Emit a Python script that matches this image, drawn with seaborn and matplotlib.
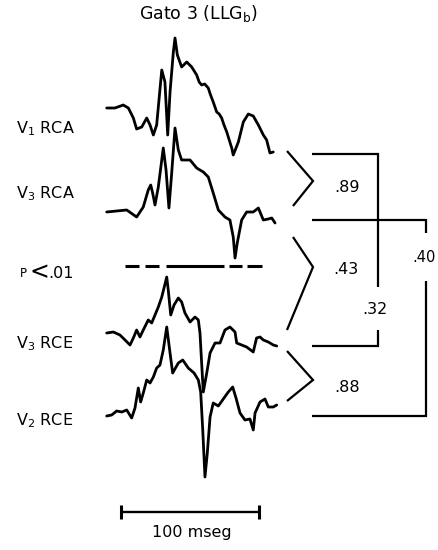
import numpy as np
import pandas as pd
import matplotlib
matplotlib.use("Agg")
import matplotlib.pyplot as plt
import seaborn as sns

sns.set_theme(style="white")
plt.rcParams["font.family"] = ["DejaVu Sans"]
plt.rcParams["mathtext.fontset"] = "dejavusans"
plt.rcParams["text.color"] = "black"

# Averaged evoked responses (time in ms, amplitude in arbitrary units)
v1_rca_t = [0, 6.0, 12.0, 15.7, 19.3, 21.7, 25.4, 29.0, 31.4, 33.8, 36.2, 39.9, 42.2, 44.2,
            45.9, 48.3, 49.5, 51.2, 54.3, 58.0, 61.6, 65.2, 67.0, 68.8, 71.0, 73.6, 75.0,
            77.2, 79.7, 81.5, 83.3, 85.0, 87.0, 90.6, 91.7, 95.4, 99.0, 102.6, 106.2,
            109.9, 113.5, 115.9, 118.3, 120.7]
v1_rca_a = [0, 0, 3, 0, -10, -21, -19, -10, -17, -27, -17, 38, 26, -27,
            16, 56, 70, 53, 41, 46, 41, 33, 26, 23, 24, 20, 14,
            6, -4, -6, -10, -17, -24, -40, -47, -34, -14, -6, -8,
            -17, -27, -32, -45, -44]

v3_rca_t = [0, 7.2, 14.5, 21.7, 26.5, 30.1, 31.9, 33.3, 35.0, 37.4, 41.0, 43.0, 45.1, 47.1,
            49.5, 51.9, 54.3, 60.4, 65.2, 70.0, 73.6, 77.2, 80.9, 85.7, 89.3, 91.7, 93.0,
            94.6, 97.8, 101.4, 106.2, 109.9, 113.5, 117.1, 119.6, 122.0]
v3_rca_a = [-1, 0, 1, -6, 4, 21, 26, 18, 6, 24, 63, 41, 3, 38,
            83, 61, 51, 51, 43, 39, 34, 18, 1, -6, -9, -26, -47,
            -32, -9, -1, -1, 3, -9, -8, -7, -12]

v3_rce_t = [0, 4.8, 9.6, 13.3, 16.9, 19.3, 21.7, 24.1, 26.5, 30.1, 32.6, 35.0, 37.4, 39.9,
            43.5, 44.6, 46.4, 48.8, 51.9, 54.3, 56.7, 60.4, 64.0, 66.4, 67.6, 68.8, 70.0,
            72.5, 74.9, 78.5, 82.1, 85.7, 89.3, 93.0, 94.2, 97.8, 101.4, 106.2, 108.6,
            111.1, 113.5, 117.1, 120.7, 123.2]
v3_rce_a = [0, 1, -2, -7, -12, -5, 3, -4, 3, 13, 10, 18, 26, 36,
            56, 43, 18, 28, 35, 31, 20, 11, 16, 13, 0, -30, -59,
            -40, -20, -10, -10, 3, 6, 1, -10, -12, -14, -19, -5,
            -4, -7, -9, -12, -13]

v2_rce_t = [0, 3.6, 7.2, 10.9, 14.5, 18.1, 20.5, 22.9, 24.6, 26.5, 29.0, 31.4, 33.8, 36.2,
            38.6, 41.0, 43.5, 45.9, 47.8, 51.9, 55.1, 59.1, 63.3, 66.4, 68.1, 69.6, 71.2,
            72.9, 74.9, 77.2, 80.9, 85.0, 88.1, 91.3, 93.7, 96.6, 100.2, 103.8, 106.2,
            107.5, 111.1, 114.7, 117.1, 120.7, 123.2]
v2_rce_a = [-2, -1, 3, 2, 4, -4, 6, 26, 12, 21, 34, 31, 37, 46,
            49, 64, 87, 61, 41, 51, 54, 46, 41, 34, 22, -16, -63,
            -39, -3, 11, 8, 16, 22, 27, 16, 1, -6, -5, -16,
            1, 12, 15, 7, 7, 9]

trace_labels = ["V$_\\mathregular{1}$ RCA", "V$_\\mathregular{3}$ RCA",
                "V$_\\mathregular{3}$ RCE", "V$_\\mathregular{2}$ RCE"]
correlations = [".89", ".43", ".88", ".32", ".40"]
significance_label = ["P", "<", ".01"]
title_text = "Gato 3 (LLG$_\\mathregular{b}$)"
scale_text = "100 mseg"
scale_ms = 100

traces = [(v1_rca_t, v1_rca_a), (v3_rca_t, v3_rca_a),
          (v3_rce_t, v3_rce_a), (v2_rce_t, v2_rce_a)]
baselines = [108, 211, 333, 414]  # vertical stacking of the traces (px from top)
label_baselines = [133, 198, 348, 425]

W, H = 438, 550
fig = plt.figure(figsize=(W / 100, H / 100), dpi=100)
fig.patch.set_facecolor("white")

# Traces drawn on a time axis: 1 ms = 1.38 px, t = 0 at x = 106.7 px
px_per_ms = 1.38
x0 = 106.7
ax = fig.add_axes([0, 0, 1, 1])
ax.set_xlim(-x0 / px_per_ms, (W - x0) / px_per_ms)
ax.set_ylim(-H, 0)
ax.axis("off")

for (t, a), base in zip(traces, baselines):
    df = pd.DataFrame({"t": t, "y": np.array(a) - base})
    sns.lineplot(data=df, x="t", y="y", ax=ax, color="black", linewidth=2.0,
                 sort=False, estimator=None)

# scale bar
sb_y = -512
ax.plot([10, 10 + scale_ms], [sb_y, sb_y], color="black", lw=1.7, solid_capstyle="butt")
for xe in (10, 10 + scale_ms):
    ax.plot([xe, xe], [sb_y - 7, sb_y + 7], color="black", lw=2.2, solid_capstyle="butt")

# significance threshold (broken line)
thr_y = -266
for a_ms, b_ms in [(13.3, 23.4), (27.8, 37.9), (43.0, 85.0), (88.6, 98.0), (101.6, 112.5)]:
    ax.plot([a_ms, b_ms], [thr_y, thr_y], color="black", lw=2.2, solid_capstyle="butt")

# annotation layer in pixel coordinates
ov = fig.add_axes([0, 0, 1, 1])
ov.set_xlim(0, W)
ov.set_ylim(H, 0)
ov.axis("off")
ov.patch.set_alpha(0)

lk = dict(color="black", lw=1.6, solid_capstyle="butt", solid_joinstyle="miter")
# pair chevrons
ov.plot([287, 313, 293], [151, 181, 206], **lk)
ov.plot([293, 313, 287], [237, 267, 330], **lk)
ov.plot([287, 313, 287], [351, 380, 401], **lk)
# bracket .32
ov.plot([312, 378, 378], [154, 154, 287], **lk)
ov.plot([378, 378, 312], [330, 346, 346], **lk)
# bracket .40
ov.plot([312, 426, 426], [220, 220, 233], **lk)
ov.plot([426, 426, 312], [281, 416, 416], **lk)

fs = 11.5
tk = dict(color="black")
ov.text(347, 187, correlations[0], fontsize=fs, ha="center", va="center", **tk)
ov.text(346, 270, correlations[1], fontsize=fs, ha="center", va="center", **tk)
ov.text(347, 387, correlations[2], fontsize=fs, ha="center", va="center", **tk)
ov.text(375, 310, correlations[3], fontsize=fs, ha="center", va="center", **tk)
ov.text(436, 257, correlations[4], fontsize=10.5, ha="right", va="center", **tk)

for lab, yb in zip(trace_labels, label_baselines):
    ov.text(16, yb, lab, fontsize=fs, ha="left", va="baseline", **tk)
ov.text(20, 277, significance_label[0], fontsize=8.5, ha="left", va="baseline", **tk)
ov.text(30, 279, significance_label[1], fontsize=17, ha="left", va="baseline", **tk)
ov.text(48, 278, significance_label[2], fontsize=fs, ha="left", va="baseline", **tk)

ov.text(198, 19, title_text, fontsize=12.5, ha="center", va="baseline", **tk)
ov.text(192, 537, scale_text, fontsize=fs, ha="center", va="baseline", **tk)

fig.savefig("out.png", dpi=100, facecolor="white")
